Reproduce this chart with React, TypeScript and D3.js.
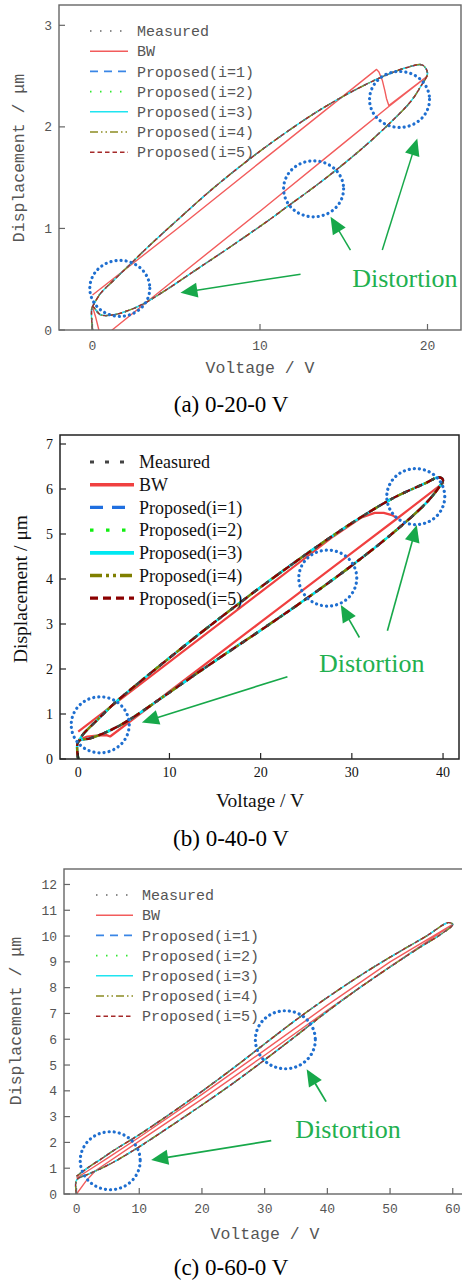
import React from 'react';
import * as d3 from 'd3';

type Pt = [number, number];

// (a) 0-20-0 V  -- [voltage V, displacement um]
const loopA: Pt[] = [
  [0, 0], [0, 0.23], [0.48, 0.15], [1.27, 0.15], [2.27, 0.2], [3.06, 0.26], [4.26, 0.38], [6.25, 0.6],
  [8.24, 0.82], [10.6, 1.09], [11.42, 1.19], [13.41, 1.43], [15.4, 1.69], [17.39, 1.98], [19, 2.25],
  [19.6, 2.4], [20, 2.53], [19.68, 2.61], [18.78, 2.585], [17.39, 2.5], [15.4, 2.34], [13.41, 2.15],
  [11.42, 1.93], [9.43, 1.69], [7.24, 1.4], [5.25, 1.11], [3.26, 0.81], [2.27, 0.65], [1.27, 0.49],
  [0.48, 0.36], [0, 0.23],
];
const bwA: Pt[] = [
  [0, 0.23], [0.2, 0.12], [0.38, 0], [0.7, -0.3], [1.17, 0], [5, 0.51], [10, 1.17], [15, 1.84], [17.69, 2.2],
  [20, 2.5], [17.69, 2.21], [17.55, 2.28], [17.45, 2.36], [17.3, 2.46], [17.1, 2.54], [16.96, 2.566],
  [10, 1.65], [5, 0.99], [0, 0.344],
];
const xTicksA = [0, 10, 20];
const yTicksA = [0, 1, 2, 3];
const circlesA: Pt[] = [[1.63, 0.41], [13.2, 1.39], [18.33, 2.27]];
const arrowsA: [Pt, Pt][] = [
  [[12.42, 0.55], [5.25, 0.367]],
  [[15.4, 0.787], [14.21, 1.114]],
  [[17.3, 0.787], [19.39, 1.885]],
];
const noteA: Pt = [15.5, 0.426];

// (b) 0-40-0 V
const loopB: Pt[] = [
  [0, 0], [0, 0.385], [1.31, 0.46], [2.78, 0.57], [4.6, 0.75], [6.43, 0.98], [10, 1.48], [15, 2.18], [20, 2.86],
  [25, 3.56], [30, 4.3], [34.55, 5.03], [38.2, 5.7], [39.6, 6.05], [40, 6.2], [39.5, 6.26], [38.2, 6.14],
  [34.55, 5.8], [30.9, 5.36], [27.25, 4.87], [23.6, 4.35], [20, 3.82], [17.39, 3.42], [13.73, 2.85],
  [10.08, 2.26], [6.43, 1.66], [3.87, 1.22], [2.05, 0.86], [0.58, 0.56], [0, 0.385],
];
const bwB: Pt[] = [
  [0, 0.42], [1, 0.5], [2, 0.52], [3.1, 0.53], [3.5, 0.5], [10, 1.5], [20, 3.04], [30, 4.58], [35, 5.35],
  [40, 6.13], [35, 5.35], [34.4, 5.42], [33.5, 5.47], [32.5, 5.47], [31, 5.36], [28, 4.95], [20, 3.71],
  [10, 2.16], [0, 0.61],
];
const xTicksB = [0, 10, 20, 30, 40];
const yTicksB = [0, 1, 2, 3, 4, 5, 6, 7];
const circlesB: Pt[] = [[2.41, 0.76], [27.36, 4.02], [37.01, 5.83]];
const arrowsB: [Pt, Pt][] = [
  [[22.94, 1.83], [6.98, 0.81]],
  [[30.83, 2.7], [28.79, 3.42]],
  [[33.9, 2.85], [37.12, 5.2]],
];
const noteB: Pt = [26.4, 1.94];

// (c) 0-60-0 V
const loopC: Pt[] = [
  [0, 0], [0, 0.54], [2, 0.78], [4, 1.0], [6, 1.25], [10, 1.83], [15, 2.63], [20, 3.45], [25, 4.3], [30, 5.2],
  [35, 6.13], [40, 7.08], [45, 7.97], [50, 8.8], [55, 9.6], [58, 10.05], [60, 10.45], [59.3, 10.52],
  [55.8, 10.0], [50, 9.18], [45, 8.43], [40, 7.62], [35, 6.75], [30, 5.82], [25, 4.88], [20, 3.98],
  [15, 3.12], [10, 2.3], [6, 1.7], [4, 1.37], [2, 1.05], [0, 0.69],
];
const bwC: Pt[] = [
  [0, 0], [1.5, 0.5], [3, 0.9], [10, 2.05], [20, 3.68], [30, 5.38], [40, 7.12], [50, 8.82], [60, 10.45],
  [50, 9.0], [40, 7.32], [30, 5.58], [20, 3.86], [10, 2.2], [5, 1.4], [2, 0.93], [0, 0.62],
];
const xTicksC = [0, 10, 20, 30, 40, 50, 60];
const yTicksC = [0, 1, 2, 3, 4, 5, 6, 7, 8, 9, 10, 11, 12];
const circlesC: Pt[] = [[5.37, 1.29], [33.3, 5.98]];
const arrowsC: [Pt, Pt][] = [
  [[31.05, 2.07], [11.9, 1.32]],
  [[39.8, 3.58], [36.7, 4.84]],
];
const noteC: Pt = [34.9, 2.16];

const legendLabels = ['Measured', 'BW', 'Proposed(i=1)', 'Proposed(i=2)', 'Proposed(i=3)', 'Proposed(i=4)', 'Proposed(i=5)'];
const captions = ['(a) 0-20-0 V', '(b) 0-40-0 V', '(c) 0-60-0 V'];

type Sty = { color: string; w: number; lw: number; dash?: string };

const thinStyles: Sty[] = [
  { color: '#666', w: 1.4, lw: 1.6, dash: '1.5 8.5' },
  { color: '#f25c5c', w: 1.4, lw: 1.6 },
  { color: '#3a86e6', w: 1.4, lw: 1.6, dash: '8 6' },
  { color: '#2ee82e', w: 1.4, lw: 1.6, dash: '1.5 8.5' },
  { color: '#1fe4f0', w: 1.4, lw: 1.6 },
  { color: '#8c8c22', w: 1.4, lw: 1.6, dash: '8 3 1.5 3 1.5 3' },
  { color: '#a52a2a', w: 1.4, lw: 1.6, dash: '4.5 3' },
];
const thickStyles: Sty[] = [
  { color: '#444', w: 2.4, lw: 3.2, dash: '4 11' },
  { color: '#f04040', w: 2.2, lw: 3.6 },
  { color: '#1f6fe0', w: 2.2, lw: 3.2, dash: '13 9' },
  { color: '#11ee11', w: 2.6, lw: 3.4, dash: '3.5 12.5' },
  { color: '#00e8f2', w: 2.4, lw: 3.8 },
  { color: '#7f7f00', w: 2.4, lw: 3.6, dash: '12 4 3 4 3 4' },
  { color: '#8b0000', w: 2.4, lw: 3.2, dash: '8 5' },
];

type PanelProps = {
  id: string;
  left: number; top: number; right: number; bottom: number;
  xDomain: [number, number]; yDomain: [number, number];
  xTicks: number[]; yTicks: number[];
  loop: Pt[]; bw: Pt[];
  circles: Pt[]; arrows: [Pt, Pt][]; note: Pt;
  styles: Sty[];
  font: string; ink: string; frame: string; frameW: number;
  tickFont: number; tickLabelX: number; xTickBase: number;
  xLabel: Pt; yLabel: Pt; axisFont: number;
  legend: { x1: number; x2: number; tx: number; y0: number; dy: number; font: number };
  arrowW: number; rx: number; ry: number;
};

function Panel(p: PanelProps) {
  const x = d3.scaleLinear().domain(p.xDomain).range([p.left, p.right]);
  const y = d3.scaleLinear().domain(p.yDomain).range([p.bottom, p.top]);
  const smooth = d3.line<Pt>().x(d => x(d[0])).y(d => y(d[1])).curve(d3.curveCatmullRom.alpha(0.5));
  const straight = d3.line<Pt>().x(d => x(d[0])).y(d => y(d[1]));
  const clipId = `clip-${p.id}`;
  const green = '#17a84a';

  const series = (i: number, d: string, key: string) => {
    const s = p.styles[i];
    return (
      <path key={key} d={d} fill="none" stroke={s.color} strokeWidth={s.w}
        strokeDasharray={s.dash} strokeLinejoin="round" />
    );
  };

  return (
    <g>
      <defs>
        <clipPath id={clipId}>
          <rect x={p.left} y={p.top} width={p.right - p.left} height={p.bottom - p.top} />
        </clipPath>
      </defs>

      <g clipPath={`url(#${clipId})`}>
        {series(1, straight(p.bw) || '', 'bw')}
        {[2, 3, 4, 5, 6].map(i => series(i, smooth(p.loop) || '', 'p' + i))}
        {series(0, smooth(p.loop) || '', 'meas')}
      </g>

      {/* frame + inward ticks */}
      <rect x={p.left} y={p.top} width={p.right - p.left} height={p.bottom - p.top}
        fill="none" stroke={p.frame} strokeWidth={p.frameW} />
      {p.xTicks.map(t => (
        <g key={'xt' + t}>
          <line x1={x(t)} x2={x(t)} y1={p.bottom} y2={p.bottom - 6} stroke={p.frame} strokeWidth={1.2} />
          <text x={x(t)} y={p.xTickBase} textAnchor="middle" fontSize={p.tickFont} fill={p.ink}
            fontFamily={p.font}>{t}</text>
        </g>
      ))}
      {p.yTicks.map(t => (
        <g key={'yt' + t}>
          <line x1={p.left} x2={p.left + 6} y1={y(t)} y2={y(t)} stroke={p.frame} strokeWidth={1.2} />
          <text x={p.tickLabelX} y={y(t)} dy="0.35em" textAnchor="end" fontSize={p.tickFont} fill={p.ink}
            fontFamily={p.font}>{t}</text>
        </g>
      ))}

      <text x={p.xLabel[0]} y={p.xLabel[1]} textAnchor="middle" fontSize={p.axisFont} fill={p.ink}
        fontFamily={p.font}>Voltage / V</text>
      <text transform={`translate(${p.yLabel[0]},${p.yLabel[1]}) rotate(-90)`} dy="0.35em" textAnchor="middle"
        fontSize={p.axisFont} fill={p.ink} fontFamily={p.font}>Displacement / μm</text>

      {/* legend */}
      {legendLabels.map((lab, i) => {
        const s = p.styles[i];
        const ly = p.legend.y0 + i * p.legend.dy;
        return (
          <g key={'lg' + i}>
            <line x1={p.legend.x1} x2={p.legend.x2} y1={ly} y2={ly} stroke={s.color} strokeWidth={s.lw}
              strokeDasharray={s.dash} />
            <text x={p.legend.tx} y={ly} dy="0.35em" fontSize={p.legend.font} fill={p.ink}
              fontFamily={p.font}>{lab}</text>
          </g>
        );
      })}

      {/* annotations */}
      {p.circles.map((c, i) => (
        <ellipse key={'c' + i} cx={x(c[0])} cy={y(c[1])} rx={p.rx} ry={p.ry} fill="none" stroke="#1f6fd0"
          strokeWidth={3.2} strokeDasharray="0.1 5" strokeLinecap="round" />
      ))}
      {p.arrows.map(([s, t], i) => {
        const sx = x(s[0]), sy = y(s[1]), tx = x(t[0]), ty = y(t[1]);
        const len = Math.hypot(tx - sx, ty - sy);
        const ux = (tx - sx) / len, uy = (ty - sy) / len;
        const hl = 17, hw = 15;
        const bx = tx - ux * hl, by = ty - uy * hl;
        const pts = [[tx, ty], [bx - uy * hw / 2, by + ux * hw / 2], [bx + uy * hw / 2, by - ux * hw / 2]];
        return (
          <g key={'a' + i}>
            <line x1={sx} y1={sy} x2={bx + ux * 2} y2={by + uy * 2} stroke={green} strokeWidth={p.arrowW} />
            <polygon points={pts.map(q => q.join(',')).join(' ')} fill={green} />
          </g>
        );
      })}
      <text x={x(p.note[0])} y={y(p.note[1])} fontSize={26} fill="#22b04f"
        fontFamily="'Liberation Serif', serif">Distortion</text>
    </g>
  );
}

export default function App() {
  const mono = "'Liberation Mono', 'DejaVu Sans Mono', monospace";
  const serif = "'Liberation Serif', 'Times New Roman', serif";
  return (
    <div style={{ position: 'absolute', left: 0, top: 0, width: 462, height: 1283, background: '#fff' }}>
      <svg width={462} height={1283} style={{ display: 'block' }}>
        <rect width={462} height={1283} fill="#fff" />
        <Panel id="a" left={59} top={5} right={461} bottom={330} xDomain={[-2, 22]} yDomain={[0, 3.2]}
          xTicks={xTicksA} yTicks={yTicksA} loop={loopA} bw={bwA} circles={circlesA} arrows={arrowsA} note={noteA}
          styles={thinStyles} font={mono} ink="#555" frame="#666" frameW={1.4}
          tickFont={13} tickLabelX={52} xTickBase={350} xLabel={[260, 373]} yLabel={[18, 158]} axisFont={16.5}
          legend={{ x1: 90, x2: 128, tx: 137, y0: 31, dy: 20.2, font: 15 }} arrowW={1.5} rx={30} ry={28} />
        <text x={231} y={412} textAnchor="middle" fontSize={23} fontFamily={serif} fill="#000">{captions[0]}</text>

        <Panel id="b" left={60} top={435} right={459} bottom={759} xDomain={[-2, 41.75]} yDomain={[0, 7.2]}
          xTicks={xTicksB} yTicks={yTicksB} loop={loopB} bw={bwB} circles={circlesB} arrows={arrowsB} note={noteB}
          styles={thickStyles} font={serif} ink="#111" frame="#222" frameW={1.5}
          tickFont={14} tickLabelX={53} xTickBase={777} xLabel={[260, 807]} yLabel={[20, 589]} axisFont={19.5}
          legend={{ x1: 90, x2: 134, tx: 139, y0: 462, dy: 22.7, font: 18 }} arrowW={1.6} rx={29} ry={28} />
        <text x={231} y={846} textAnchor="middle" fontSize={23} fontFamily={serif} fill="#000">{captions[1]}</text>

        <Panel id="c" left={64} top={869} right={465.3} bottom={1194} xDomain={[-2, 62]} yDomain={[0, 12.6]}
          xTicks={xTicksC} yTicks={yTicksC} loop={loopC} bw={bwC} circles={circlesC} arrows={arrowsC} note={noteC}
          styles={thinStyles} font={mono} ink="#555" frame="#666" frameW={1.4}
          tickFont={13} tickLabelX={57} xTickBase={1213} xLabel={[265, 1239]} yLabel={[15, 1021]} axisFont={16.5}
          legend={{ x1: 96, x2: 133, tx: 142, y0: 895, dy: 20.2, font: 15 }} arrowW={1.8} rx={30} ry={29} />
        <text x={231} y={1275} textAnchor="middle" fontSize={23} fontFamily={serif} fill="#000">{captions[2]}</text>
      </svg>
    </div>
  );
}
